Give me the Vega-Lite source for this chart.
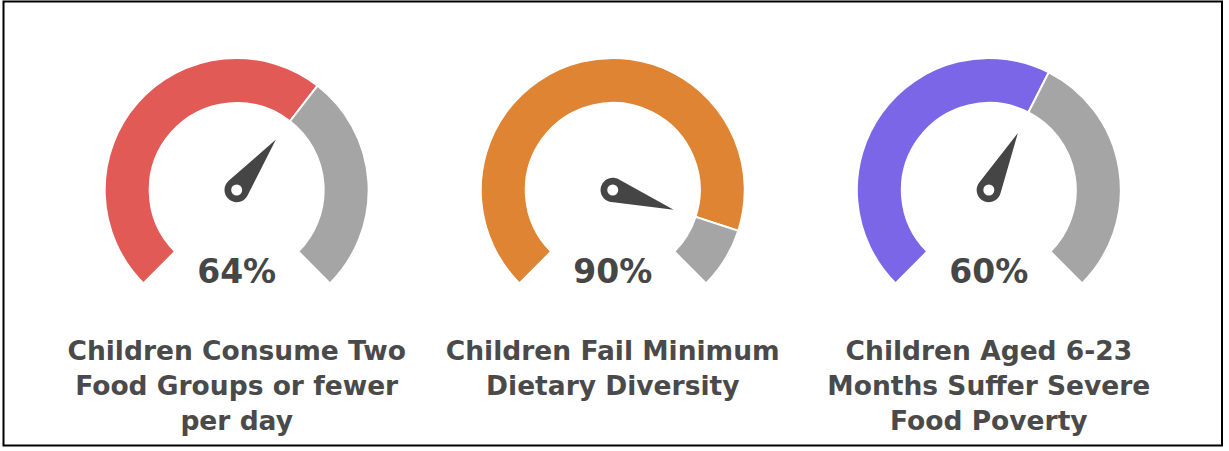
{
  "$schema": "https://vega.github.io/schema/vega-lite/v6.json",
  "width": 1229,
  "height": 451,
  "autosize": {"type": "fit", "contains": "padding"},
  "padding": {"left": 3.5, "top": 1.5, "right": 7, "bottom": 5.5},
  "background": "white",
  "config": {"view": {"stroke": "#000000", "strokeWidth": 2}},
  "datasets": {
    "segments": [
      {"gauge": "A", "from": 0, "to": 64, "part": "A"},
      {"gauge": "A", "from": 64, "to": 100, "part": "Remaining"},
      {"gauge": "B", "from": 0, "to": 90, "part": "B"},
      {"gauge": "B", "from": 90, "to": 100, "part": "Remaining"},
      {"gauge": "C", "from": 0, "to": 60, "part": "C"},
      {"gauge": "C", "from": 60, "to": 100, "part": "Remaining"}
    ],
    "gauges": [
      {"gauge": "A", "value": 64, "pct": "64%", "label": "Children Consume Two\nFood Groups or fewer\nper day"},
      {"gauge": "B", "value": 90, "pct": "90%", "label": "Children Fail Minimum\nDietary Diversity"},
      {"gauge": "C", "value": 60, "pct": "60%", "label": "Children Aged 6-23\nMonths Suffer Severe\nFood Poverty"}
    ]
  },
  "encoding": {
    "x": {"field": "gauge", "type": "nominal", "axis": null, "scale": {"type": "point", "padding": 0.62, "domain": ["A", "B", "C"]}}
  },
  "layer": [
    {
      "data": {"name": "segments"},
      "mark": {"type": "arc", "radius": 132, "radius2": 87, "yOffset": -33.5, "stroke": "white", "strokeWidth": 2},
      "encoding": {
        "theta": {"field": "from", "type": "quantitative", "stack": null, "scale": {"domain": [0, 100], "range": [-2.35619, 2.35619]}},
        "theta2": {"field": "to"},
        "color": {"field": "part", "type": "nominal", "legend": null, "scale": {"domain": ["A", "B", "C", "Remaining"], "range": ["#E25A55", "#DE8432", "#7C66E8", "#A5A5A5"]}}
      }
    },
    {
      "data": {"name": "gauges"},
      "mark": {"type": "point", "filled": true, "opacity": 1, "color": "#454545", "strokeWidth": 0, "yOffset": -33.5, "size": 16384, "shape": "M 0 -1 L 0.1865 -0.0361 A 0.19 0.19 0 1 1 -0.1865 -0.0361 Z"},
      "encoding": {
        "angle": {"field": "value", "type": "quantitative", "scale": {"domain": [0, 100], "range": [-135, 135]}}
      }
    },
    {
      "data": {"name": "gauges"},
      "mark": {"type": "point", "filled": true, "opacity": 1, "color": "white", "strokeWidth": 0, "yOffset": -33.5, "size": 121, "shape": "circle"},
      "encoding": {}
    },
    {
      "data": {"name": "gauges"},
      "mark": {"type": "text", "font": "DejaVu Sans", "fontWeight": "bold", "fontSize": 33, "color": "#464646", "align": "center", "baseline": "alphabetic", "yOffset": 59.5},
      "encoding": {"text": {"field": "pct"}}
    },
    {
      "data": {"name": "gauges"},
      "mark": {"type": "text", "font": "DejaVu Sans", "fontWeight": "bold", "fontSize": 26.5, "color": "#4A4A4A", "align": "center", "baseline": "alphabetic", "lineBreak": "\n", "lineHeight": 35, "yOffset": 136.5},
      "encoding": {"text": {"field": "label"}}
    }
  ]
}
